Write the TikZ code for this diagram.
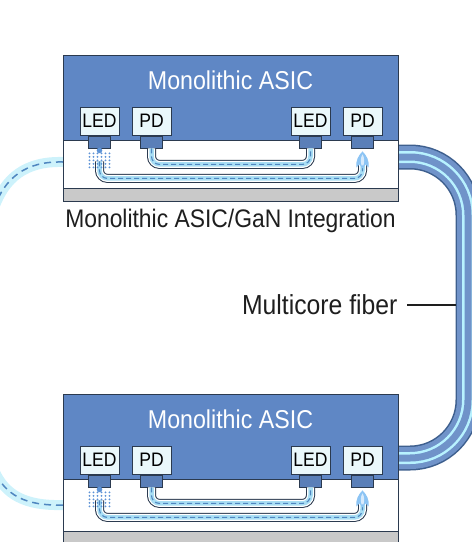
\documentclass[tikz,border=0pt]{standalone}
\usepackage{fontspec}
\setmainfont{Liberation Sans}
\newfontfamily\narrowsf[FakeStretch=0.9]{Liberation Sans}
\usetikzlibrary{positioning}

\definecolor{chipc}{HTML}{5F87C5}
\definecolor{edgec}{HTML}{2B3A4F}
\definecolor{boxc}{HTML}{EAF8FB}
\definecolor{stubc}{HTML}{5A7FB8}
\definecolor{subc}{HTML}{C9C9C9}
\definecolor{fibedge}{HTML}{3E5F8E}
\definecolor{fibblue}{HTML}{7093C9}
\definecolor{fibcore}{HTML}{B8F2FF}
\definecolor{wgc}{HTML}{A8DEF4}
\definecolor{dashc}{HTML}{4F86C0}
\definecolor{glowc}{HTML}{CDF2FB}
\definecolor{dotc}{HTML}{5E93D6}
\definecolor{conec}{HTML}{8CC4F4}
\definecolor{textc}{HTML}{1E1E1E}

\begin{document}
\begin{tikzpicture}[x=1pt, y=-1pt, font=\narrowsf,
  part/.style={draw=edgec, fill=boxc, line width=1pt, minimum width=39pt, minimum height=28pt, inner sep=0pt, font=\narrowsf\fontsize{19.5}{21}\selectfont},
  stub/.style={draw=edgec, fill=stubc, line width=0.9pt, minimum width=22pt, minimum height=12pt, inner sep=0pt},
  wgout/.style={draw=edgec, line width=9pt, rounded corners=8pt},
  wgin/.style={draw=white, line width=7pt, rounded corners=8pt},
  wglight/.style={draw=wgc, line width=4.5pt, rounded corners=8pt},
  wgmid/.style={draw=dashc, line width=1.1pt, dash pattern=on 5pt off 3pt, rounded corners=8pt},
  glow/.style={draw=glowc, line width=10pt},
  glowdash/.style={draw=dashc, line width=1.5pt, dash pattern=on 7pt off 5pt}]

\useasboundingbox (0,0) rectangle (472,542);

% multicore fiber between the two chips
\foreach \w/\col in {25/fibedge, 22/fibblue, 12/fibcore, 7/fibblue}
  \draw[line width=\w pt, \col, rounded corners=58pt] (385,157) -- (468,157) -- (468,458) -- (385,458);

\node[anchor=east, text=textc, font=\narrowsf\fontsize{27.5}{30}\selectfont] (mcf) at (401,305) {Multicore fiber};
\coordinate (fibside) at (456,305);
\draw[textc, line width=1.2pt] ([xshift=6pt]mcf.east) -- (fibside);

% loop-back fiber on the left
\draw[glow] (63,162) .. controls (25,161) and (5,178) .. (-6,208);
\draw[glowdash] (63,162) .. controls (25,161) and (5,178) .. (-6,208);
\draw[glow] (63,505) .. controls (25,506) and (5,495) .. (-6,470);
\draw[glowdash] (63,505) .. controls (25,506) and (5,495) .. (-6,470);

\foreach \c/\y/\h in {t/0/188, b/339/192} {
\begin{scope}[shift={(0,\y)}]
  % chip stack: ASIC, GaN layer, substrate
  \draw[edgec, line width=1pt, fill=chipc] (63,55) rectangle (398,140);
  \draw[edgec, line width=1pt, fill=white] (63,140) rectangle (398,\h);
  \draw[edgec, line width=1pt, fill=subc] (63,\h) rectangle (398,\h+13);
  \node[text=white, font=\narrowsf\fontsize{25.8}{28}\selectfont] (asic\c) at (230.5,80) {Monolithic ASIC};

  \node[part] (led1\c) at (99.5,121) {LED};
  \node[part] (pd1\c) at (151.5,121) {PD};
  \node[part] (led2\c) at (310.5,121) {LED};
  \node[part] (pd2\c) at (362.5,121) {PD};
  \node[stub, below=0pt of led1\c] (led1s\c) {};
  \node[stub, below=0pt of pd1\c] (pd1s\c) {};
  \node[stub, below=0pt of led2\c] (led2s\c) {};
  \node[stub, below=0pt of pd2\c] (pd2s\c) {};

  % waveguides
  \foreach \s in {wgout, wgin, wglight, wgmid} {
    \draw[\s] (pd1s\c.south) -- ++(0,16) -| (led2s\c.south);
    \draw[\s] ([yshift=-13pt]led1s\c.south) -- ++(0,17) -| ([yshift=-14pt]pd2s\c.south);
  }

  % LED emission
  \fill[dotc] ([yshift=-2pt]led1s\c.south) circle (2.8);
  \foreach \dx in {-10,-6,...,10}
    \foreach \dy in {5,8.5,...,19}
      \fill[dotc] ([shift={(\dx,\dy)}]led1s\c.south) circle (1.05);

  % light entering the PD
  \begin{scope}[shift={(pd2s\c.south)}]
    \fill[conec] (0,3) .. controls (4,7) and (7,12) .. (6,19) -- (3,16) -- (0,20) -- (-3,16) -- (-6,19) .. controls (-7,12) and (-4,7) .. (0,3) -- cycle;
    \fill[white!65!conec] (0,6) .. controls (2,9) and (2,13) .. (1,17) -- (-1,17) .. controls (-2,13) and (-2,9) .. (0,6) -- cycle;
  \end{scope}
\end{scope}
}

\node[text=textc, font=\narrowsf\fontsize{25.4}{28}\selectfont] (integ) at (230.5,221) {Monolithic ASIC/GaN Integration};

\end{tikzpicture}
\end{document}
